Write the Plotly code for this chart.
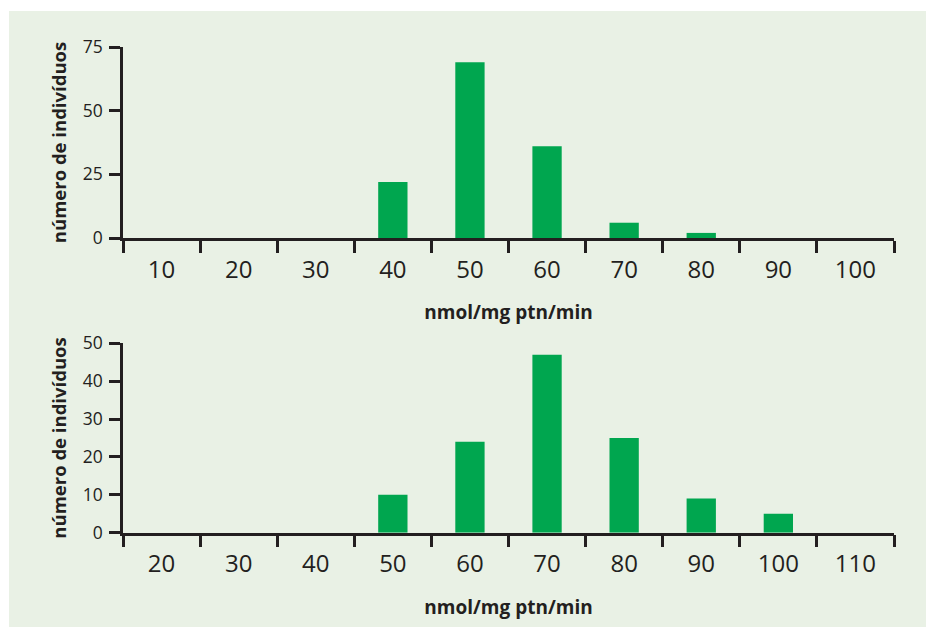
import plotly.graph_objects as go

# Data
top_categories = ["10", "20", "30", "40", "50", "60", "70", "80", "90", "100"]
top_counts = [0, 0, 0, 22, 69, 36, 6, 2, 0, 0]
bottom_categories = ["20", "30", "40", "50", "60", "70", "80", "90", "100", "110"]
bottom_counts = [0, 0, 0, 10, 24, 47, 25, 9, 5, 0]
top_yticks = [0, 25, 50, 75]
bottom_yticks = [0, 10, 20, 30, 40, 50]

x_title = "nmol/mg ptn/min"
y_title = "número de indivíduos"

# page is offset by the default 8px body margin
OFF = 8
W, H = 934 - OFF, 627 - OFF
BAR = "#00A64F"
INK = "#231F20"
BG = "#E9F1E5"
FONT = "Open Sans"


def fx(p):
    return (p - OFF) / W


def fy(p):
    return (H - (p - OFF)) / H


fig = go.Figure()
fig.add_trace(go.Bar(x=top_categories, y=top_counts, marker_color=BAR,
                     marker_line_width=0, width=0.38, xaxis="x", yaxis="y",
                     showlegend=False))
fig.add_trace(go.Bar(x=bottom_categories, y=bottom_counts, marker_color=BAR,
                     marker_line_width=0, width=0.38, xaxis="x2", yaxis="y2",
                     showlegend=False))

xdom = [fx(123), fx(894)]
top_dom = [fy(238), fy(47)]
bot_dom = [fy(532.7), fy(343.3)]


def xaxis(anchor, cats):
    return dict(domain=xdom, anchor=anchor, type="category",
                categoryorder="array", categoryarray=cats,
                range=[-0.5, len(cats) - 0.5], automargin=False,
                showline=True, linecolor=INK, linewidth=2.5,
                ticks="outside", tickson="boundaries", ticklen=12,
                tickwidth=2.5, tickcolor=INK, showgrid=False, zeroline=False,
                tickfont=dict(family=FONT, size=24, color=INK),
                ticklabelstandoff=8,
                title=dict(text=x_title, standoff=23,
                           font=dict(family=FONT, size=19, color=INK,
                                     weight="bold")))


def yaxis(anchor, dom, rng, tv):
    return dict(domain=dom, anchor=anchor, range=rng, tickvals=tv,
                automargin=False,
                showline=True, linecolor=INK, linewidth=2.5,
                ticks="outside", ticklen=11, tickwidth=2.5, tickcolor=INK,
                showgrid=False, zeroline=False,
                tickfont=dict(family=FONT, size=17.5, color=INK),
                ticklabelstandoff=3,
                title=dict(text=y_title, standoff=12,
                           font=dict(family=FONT, size=18.5, color=INK,
                                     weight="bold")))


fig.update_layout(
    width=W, height=H,
    margin=dict(l=0, r=0, t=0, b=0, autoexpand=False),
    paper_bgcolor="white",
    plot_bgcolor="rgba(0,0,0,0)",
    xaxis=xaxis("y", top_categories),
    yaxis=yaxis("x", top_dom, [0, 75], top_yticks),
    xaxis2=xaxis("y2", bottom_categories),
    yaxis2=yaxis("x2", bot_dom, [0, 50], bottom_yticks),
    shapes=[dict(type="rect", xref="paper", yref="paper", layer="below",
                 x0=fx(9), x1=1.01, y0=-0.01, y1=fy(11),
                 fillcolor=BG, line_width=0)],
)

fig.write_html("out.html")
